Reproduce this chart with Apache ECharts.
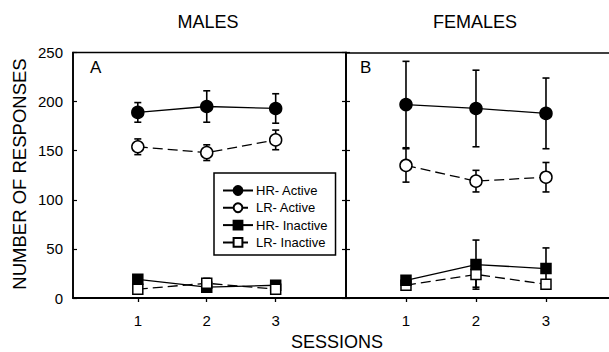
<!DOCTYPE html>
<html><head><meta charset="utf-8">
<script src="https://cdn.jsdelivr.net/npm/echarts@6/dist/echarts.min.js"></script>
<style>html,body{margin:0;padding:0;background:#fff}#c{width:609px;height:352px}</style>
</head><body><div id="c"></div>
<script>
// ---- data ----
var sessions = [1, 2, 3];
var seriesNames = ['HR- Active', 'LR- Active', 'HR- Inactive', 'LR- Inactive'];
var yTicks = [0, 50, 100, 150, 200, 250];
// Males (panel A)
var malesHRActive = [189, 195, 193];
var malesHRActiveErr = [10, 16, 15];
var malesLRActive = [154, 148, 161];
var malesLRActiveErr = [8, 8, 10];
var malesHRInactive = [19, 11, 13];
var malesHRInactiveErr = [4, 3, 3];
var malesLRInactive = [9, 15, 9];
var malesLRInactiveErr = [3, 5, 3];
// Females (panel B)
var femalesHRActive = [197, 193, 188];
var femalesHRActiveErr = [44, 39, 36];
var femalesLRActive = [135, 119, 123];
var femalesLRActiveErr = [17, 11, 15];
var femalesHRInactive = [18, 34, 30];
var femalesHRInactiveErr = [3, 25, 21];
var femalesLRInactive = [13, 24, 14];
var femalesLRInactiveErr = [3, 13, 4];

var FONT = "'Liberation Sans', Arial, Helvetica, sans-serif";
var chart = echarts.init(document.getElementById('c'), null, {renderer: 'svg'});

function pts(vals) { return sessions.map(function (s, i) { return [s, vals[i]]; }); }
function errPts(vals, errs) { return sessions.map(function (s, i) { return [s, vals[i], errs[i]]; }); }

var styles = {
  'HR- Active': {symbol: 'circle', size: 12, fill: '#000', dash: 'solid'},
  'LR- Active': {symbol: 'circle', size: 12, fill: '#fff', dash: [10, 5]},
  'HR- Inactive': {symbol: 'rect', size: 10, fill: '#000', dash: 'solid'},
  'LR- Inactive': {symbol: 'rect', size: 10, fill: '#fff', dash: [10, 5]}
};

function errSeries(name, vals, errs, axisIdx) {
  return {
    type: 'custom', name: name + ' err', xAxisIndex: axisIdx, yAxisIndex: axisIdx === 0 ? 0 : 2,
    data: errPts(vals, errs), z: 1, silent: true,
    renderItem: function (params, api) {
      var x = api.value(0), y = api.value(1), e = api.value(2);
      var top = api.coord([x, y + e]), bot = api.coord([x, y - e]);
      var cw = 3.5;
      var st = {stroke: '#000', lineWidth: 1.6};
      return {type: 'group', children: [
        {type: 'line', shape: {x1: top[0], y1: top[1], x2: bot[0], y2: bot[1]}, style: st},
        {type: 'line', shape: {x1: top[0] - cw, y1: top[1], x2: top[0] + cw, y2: top[1]}, style: st},
        {type: 'line', shape: {x1: bot[0] - cw, y1: bot[1], x2: bot[0] + cw, y2: bot[1]}, style: st}
      ]};
    }
  };
}
function lineSeries(name, vals, axisIdx, z) {
  var s = styles[name];
  return {
    type: 'line', name: name, xAxisIndex: axisIdx, yAxisIndex: axisIdx === 0 ? 0 : 2,
    data: pts(vals), symbol: s.symbol, symbolSize: s.size, showAllSymbol: true, z: z,
    lineStyle: {color: '#000', width: 1.3, type: s.dash},
    itemStyle: {color: s.fill, borderColor: '#000', borderWidth: 1.5},
    emphasis: {disabled: true}, animation: false
  };
}

var series = [
  errSeries('HR- Active', malesHRActive, malesHRActiveErr, 0),
  errSeries('LR- Active', malesLRActive, malesLRActiveErr, 0),
  errSeries('HR- Inactive', malesHRInactive, malesHRInactiveErr, 0),
  errSeries('LR- Inactive', malesLRInactive, malesLRInactiveErr, 0),
  errSeries('HR- Active', femalesHRActive, femalesHRActiveErr, 1),
  errSeries('LR- Active', femalesLRActive, femalesLRActiveErr, 1),
  errSeries('HR- Inactive', femalesHRInactive, femalesHRInactiveErr, 1),
  errSeries('LR- Inactive', femalesLRInactive, femalesLRInactiveErr, 1),
  lineSeries('HR- Active', malesHRActive, 0, 5),
  lineSeries('LR- Active', malesLRActive, 0, 5),
  lineSeries('HR- Inactive', malesHRInactive, 0, 5),
  lineSeries('LR- Inactive', malesLRInactive, 0, 6),
  lineSeries('HR- Active', femalesHRActive, 1, 5),
  lineSeries('LR- Active', femalesLRActive, 1, 5),
  lineSeries('LR- Inactive', femalesLRInactive, 1, 5),
  lineSeries('HR- Inactive', femalesHRInactive, 1, 6)
];

function xAx(gi, min, max) {
  return {
    type: 'value', gridIndex: gi, min: min, max: max, position: 'bottom',
    splitLine: {show: false},
    axisLine: {show: true, lineStyle: {color: '#000', width: 1.8}},
    axisTick: {show: true, inside: false, length: 4, customValues: sessions, lineStyle: {color: '#000', width: 1.3}},
    axisLabel: {show: true, customValues: sessions, margin: 15, color: '#000', fontSize: 15, fontFamily: FONT}
  };
}
function xTop(gi, min, max) {
  return {
    type: 'value', gridIndex: gi, min: min, max: max, position: 'top',
    splitLine: {show: false},
    axisLine: {show: true, lineStyle: {color: '#000', width: 1.6}},
    axisTick: {show: false}, axisLabel: {show: false}
  };
}
function yAx(gi, pos, labels) {
  return {
    type: 'value', gridIndex: gi, min: 0, max: 250, interval: 50, position: pos,
    splitLine: {show: false},
    axisLine: {show: true, lineStyle: {color: '#000', width: 1.6}},
    axisTick: {show: true, inside: true, length: 4, lineStyle: {color: '#000', width: 1.2}},
    axisLabel: {show: labels, margin: 10, color: '#000', fontSize: 15, fontFamily: FONT,
      customValues: yTicks}
  };
}

chart.setOption({
  animation: false,
  backgroundColor: '#fff',
  grid: [
    {left: 73, top: 52.5, width: 273, height: 245.5, show: true, borderColor: '#000', borderWidth: 1.6, backgroundColor: 'transparent', containLabel: false, outerBoundsMode: 'none'},
    {left: 346, top: 52.5, width: 266, height: 245.5, show: false, containLabel: false, outerBoundsMode: 'none'}
  ],
  xAxis: [xAx(0, 0.06, 4.02), xAx(1, 0.143, 3.943), xTop(1, 0.143, 3.943)],
  yAxis: [yAx(0, 'left', true), yAx(0, 'right', false), yAx(1, 'left', false)],
  legend: {
    orient: 'vertical', left: 214, top: 173,
    data: seriesNames,
    itemWidth: 30, itemHeight: 11, itemGap: 4.3,
    padding: [11, 8, 6, 8],
    borderColor: '#000', borderWidth: 1.5, backgroundColor: '#fff',
    selectedMode: false,
    textStyle: {color: '#000', fontSize: 13, fontFamily: FONT, padding: [0, 0, 0, -2]}
  },
  graphic: [
    {type: 'text', x: 208, y: 21.5, style: {text: 'MALES', font: '18px ' + FONT, fill: '#000', textAlign: 'center', textVerticalAlign: 'middle'}},
    {type: 'text', x: 475, y: 21.5, style: {text: 'FEMALES', font: '18px ' + FONT, fill: '#000', textAlign: 'center', textVerticalAlign: 'middle'}},
    {type: 'text', x: 337, y: 342, style: {text: 'SESSIONS', font: '18px ' + FONT, fill: '#000', textAlign: 'center', textVerticalAlign: 'middle'}},
    {type: 'text', x: 19, y: 174, rotation: Math.PI / 2, style: {text: 'NUMBER OF RESPONSES', font: '18.5px ' + FONT, fill: '#000', textAlign: 'center', textVerticalAlign: 'middle'}},
    {type: 'text', x: 90, y: 67, style: {text: 'A', font: '17px ' + FONT, fill: '#000', textAlign: 'left', textVerticalAlign: 'middle'}},
    {type: 'text', x: 360, y: 67, style: {text: 'B', font: '17px ' + FONT, fill: '#000', textAlign: 'left', textVerticalAlign: 'middle'}}
  ],
  series: series
});
</script>
</body></html>
